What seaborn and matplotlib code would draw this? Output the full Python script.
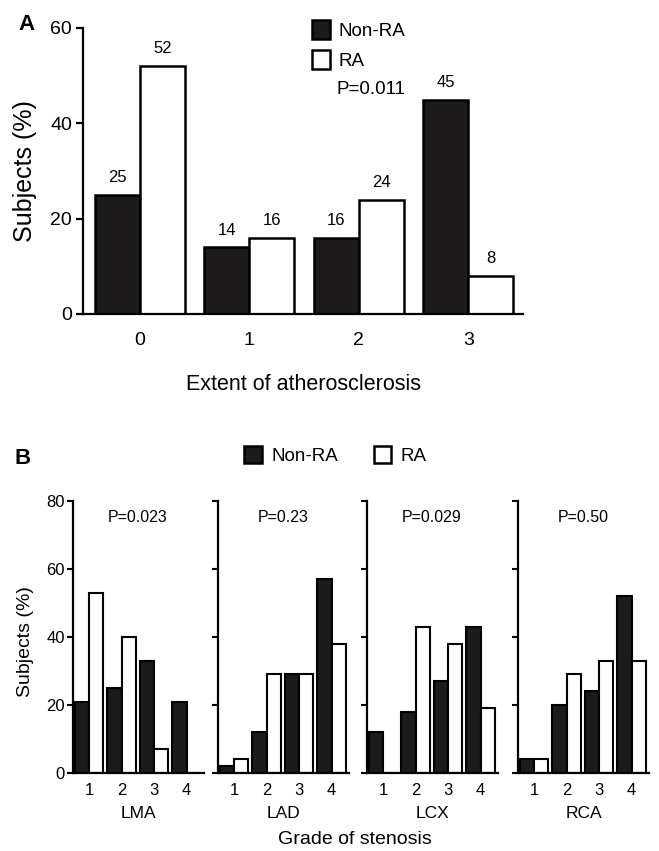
import matplotlib
matplotlib.use("Agg")
import matplotlib.pyplot as plt
from matplotlib.patches import Patch
import seaborn as sns
import pandas as pd

# ---------------- data ----------------
grades_A = ["0", "1", "2", "3"]
nonra_A = [25, 14, 16, 45]
ra_A = [52, 16, 24, 8]
p_A = "P=0.011"

vessels = ["LMA", "LAD", "LCX", "RCA"]
grades_B = ["1", "2", "3", "4"]
lma_nonra = [21, 25, 33, 21]
lma_ra = [53, 40, 7, 0]
lad_nonra = [2, 12, 29, 57]
lad_ra = [4, 29, 29, 38]
lcx_nonra = [12, 18, 27, 43]
lcx_ra = [0, 43, 38, 19]
rca_nonra = [4, 20, 24, 52]
rca_ra = [4, 29, 33, 33]
p_B = ["P=0.023", "P=0.23", "P=0.029", "P=0.50"]
groups = ["Non-RA", "RA"]

# ---------------- style ----------------
sns.set_style("ticks")
plt.rcParams["font.family"] = ["Liberation Sans", "DejaVu Sans"]
plt.rcParams["axes.linewidth"] = 1.6
for key in ["text.color", "axes.labelcolor", "xtick.color", "ytick.color",
            "axes.edgecolor"]:
    plt.rcParams[key] = "black"
BLACK = "#1c1a1a"
palette = {"Non-RA": BLACK, "RA": "white"}

W, H = 659, 851
fig = plt.figure(figsize=(W / 100, H / 100), dpi=100)


def fx(px):
    return px / W


def fy(py):
    return 1 - py / H


def make_df(cats, a, b):
    return pd.DataFrame({
        "grade": list(cats) * 2,
        "pct": list(a) + list(b),
        "group": ["Non-RA"] * len(a) + ["RA"] * len(b),
    })


# ---------------- panel A ----------------
axA = fig.add_axes([fx(83), fy(314), fx(523) - fx(83), fy(28) - fy(314)])
dfA = make_df(grades_A, nonra_A, ra_A)
sns.barplot(data=dfA, x="grade", y="pct", hue="group", order=grades_A,
            hue_order=groups, palette=palette, edgecolor="black",
            linewidth=1.8, width=0.82, saturation=1, ax=axA, legend=False)
for cont, vals in zip(axA.containers, [nonra_A, ra_A]):
    axA.bar_label(cont, labels=[str(v) for v in vals], padding=7, fontsize=12)
axA.set_ylim(0, 60)
axA.set_xlim(-0.52, 3.50)
axA.set_yticks([0, 20, 40, 60])
axA.tick_params(axis="y", length=5, width=1.6, labelsize=14, pad=3)
axA.tick_params(axis="x", length=0, labelsize=14, pad=13)
sns.despine(ax=axA)
axA.set_ylabel("Subjects (%)", fontsize=18)
axA.yaxis.set_label_coords(-0.105, 0.5)
axA.set_xlabel("Extent of atherosclerosis", fontsize=15.5)
axA.xaxis.set_label_coords(0.5, -0.21)

handles = [Patch(facecolor=palette[g], edgecolor="black", linewidth=1.8, label=g)
           for g in groups]
fig.legend(handles=handles, loc="upper left", bbox_to_anchor=(fx(312), fy(20)),
           frameon=False, fontsize=13.5, handlelength=0.95, handleheight=1.2,
           handletextpad=0.45, labelspacing=0.55, borderpad=0, borderaxespad=0)
fig.text(fx(337), fy(89), p_A, fontsize=13.5, va="center", ha="left")
fig.text(fx(18), fy(24), "A", fontsize=16, fontweight="bold", va="center")

# ---------------- panel B ----------------
b_data = [(lma_nonra, lma_ra), (lad_nonra, lad_ra),
          (lcx_nonra, lcx_ra), (rca_nonra, rca_ra)]
lefts = [73, 218, 367, 518]
for i, (vessel, (nr, r), p, lx) in enumerate(zip(vessels, b_data, p_B, lefts)):
    ax = fig.add_axes([fx(lx), fy(773), fx(131), fy(500.7) - fy(773)])
    df = make_df(grades_B, nr, r)
    sns.barplot(data=df, x="grade", y="pct", hue="group", order=grades_B,
                hue_order=groups, palette=palette, edgecolor="black",
                linewidth=1.5, width=0.88, saturation=1, ax=ax, legend=False)
    ax.set_ylim(0, 80)
    ax.set_xlim(-0.49, 3.53)
    ax.set_yticks([0, 20, 40, 60, 80])
    ax.tick_params(axis="y", length=4, width=1.5, labelsize=12, pad=2)
    ax.tick_params(axis="x", length=0, labelsize=12, pad=7)
    if i > 0:
        ax.set_yticklabels([])
    sns.despine(ax=ax)
    ax.set_ylabel("")
    ax.set_xlabel(vessel, fontsize=12.5)
    ax.xaxis.set_label_coords(0.5, -0.12)
    ax.text(1.5, 75, p, ha="center", va="center", fontsize=11.5)

fig.text(fx(25), fy(642), "Subjects (%)", rotation=90, ha="center",
         va="center", fontsize=14)
fig.text(fx(355), fy(840), "Grade of stenosis", ha="center", va="center",
         fontsize=14)
fig.text(fx(15), fy(458), "B", fontsize=16, fontweight="bold", va="center")
fig.legend(handles=handles, loc="upper left", bbox_to_anchor=(fx(244), fy(446)),
           ncol=2, frameon=False, fontsize=13.5, handlelength=0.95,
           handleheight=1.05, handletextpad=0.5, columnspacing=1.9,
           borderpad=0, borderaxespad=0)

fig.savefig("out.png", dpi=100)
